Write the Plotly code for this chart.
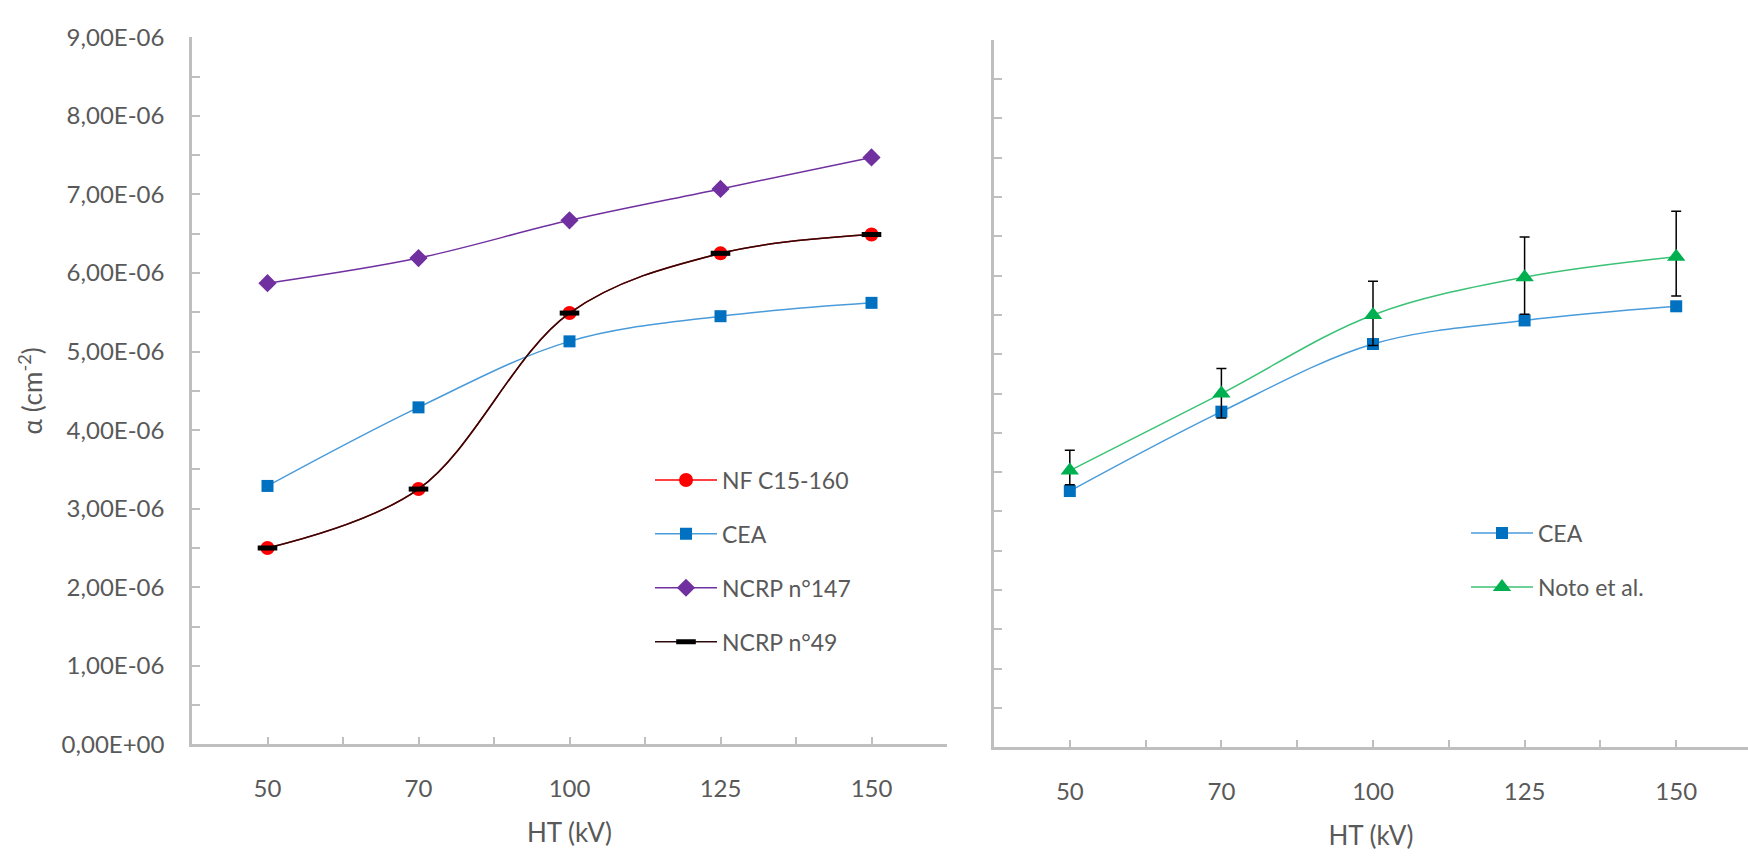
import plotly.graph_objects as go

# ---------------- data ----------------
HT_LABELS = ["50", "70", "100", "125", "150"]
X_POS = [1, 2, 3, 4, 5]  # category positions

NF_C15_160 = [2.50e-6, 3.25e-6, 5.49e-6, 6.25e-6, 6.49e-6]
CEA_LEFT = [3.29e-6, 4.29e-6, 5.13e-6, 5.45e-6, 5.62e-6]
NCRP_147 = [5.87e-6, 6.19e-6, 6.67e-6, 7.07e-6, 7.47e-6]
NCRP_49 = [2.50e-6, 3.25e-6, 5.49e-6, 6.25e-6, 6.49e-6]

CEA_RIGHT = [3.26e-6, 4.27e-6, 5.13e-6, 5.43e-6, 5.61e-6]
NOTO = [3.52e-6, 4.50e-6, 5.50e-6, 5.98e-6, 6.24e-6]
NOTO_ERR_PLUS = [0.26e-6, 0.32e-6, 0.43e-6, 0.51e-6, 0.58e-6]
NOTO_ERR_MINUS = [0.18e-6, 0.31e-6, 0.39e-6, 0.47e-6, 0.50e-6]

Y_TICK_VALS = [0, 1e-6, 2e-6, 3e-6, 4e-6, 5e-6, 6e-6, 7e-6, 8e-6, 9e-6]
Y_TICK_LABELS = ["0,00E+00", "1,00E-06", "2,00E-06", "3,00E-06", "4,00E-06",
                 "5,00E-06", "6,00E-06", "7,00E-06", "8,00E-06", "9,00E-06"]
Y_MINOR_VALS = [0.5e-6, 1.5e-6, 2.5e-6, 3.5e-6, 4.5e-6, 5.5e-6, 6.5e-6, 7.5e-6, 8.5e-6]
X_MINOR_VALS = [1.5, 2.5, 3.5, 4.5, 5.5]

# ---------------- style ----------------
W, H = 1748, 856
FONT = "Lato"
TXT = "#595959"
AX = "#BFBFBF"
FS_TICK = 24
FS_LEG = 23
FS_TITLE = 26

def fx(px):
    return px / W

def fy(py):
    return 1 - py / H

fig = go.Figure()

# left panel
fig.add_trace(go.Scatter(x=X_POS, y=NF_C15_160, name="NF C15-160", mode="lines+markers",
                         line=dict(color="#FF0000", width=1.5, shape="spline", smoothing=1),
                         marker=dict(symbol="circle", size=14, color="#FF0000"),
                         xaxis="x", yaxis="y", legend="legend", legendgroup="a"))
fig.add_trace(go.Scatter(x=X_POS, y=CEA_LEFT, name="CEA", mode="lines+markers",
                         line=dict(color="#4A9BDA", width=1.5, shape="spline", smoothing=1),
                         marker=dict(symbol="square", size=12, color="#0070C0"),
                         xaxis="x", yaxis="y", legend="legend", legendgroup="b"))
fig.add_trace(go.Scatter(x=X_POS, y=NCRP_147, name="NCRP n°147", mode="lines+markers",
                         line=dict(color="#7030A0", width=1.5, shape="spline", smoothing=1),
                         marker=dict(symbol="diamond", size=14, color="#7030A0"),
                         xaxis="x", yaxis="y", legend="legend", legendgroup="c"))
fig.add_trace(go.Scatter(x=X_POS, y=NCRP_49, name="NCRP n°49", mode="lines+markers",
                         line=dict(color="#2A0A0A", width=1.5, shape="spline", smoothing=1),
                         marker=dict(symbol="line-ew", size=14, color="#000000",
                                     line=dict(color="#000000", width=5)),
                         xaxis="x", yaxis="y", legend="legend", legendgroup="d"))

# right panel
fig.add_trace(go.Scatter(x=X_POS, y=CEA_RIGHT, name="CEA", mode="lines+markers",
                         line=dict(color="#4A9BDA", width=1.5, shape="spline", smoothing=1),
                         marker=dict(symbol="square", size=12, color="#0070C0"),
                         xaxis="x2", yaxis="y2", legend="legend2", legendgroup="e"))
fig.add_trace(go.Scatter(x=X_POS, y=NOTO, name="Noto et al.", mode="lines+markers",
                         line=dict(color="#3CC276", width=1.5, shape="spline", smoothing=1),
                         marker=dict(symbol="triangle-up", size=16, color="#00B050"),
                         error_y=dict(type="data", symmetric=False, array=NOTO_ERR_PLUS,
                                      arrayminus=NOTO_ERR_MINUS, color="#000000",
                                      thickness=1.5, width=5),
                         xaxis="x2", yaxis="y2", legend="legend2", legendgroup="f"))

tick_style = dict(ticks="inside", ticklen=8, tickwidth=2, tickcolor=AX)
xcommon = dict(tickmode="array", tickvals=X_POS, ticktext=HT_LABELS,
               minor=dict(tickmode="array", tickvals=X_MINOR_VALS, **tick_style),
               showline=True, linecolor=AX, linewidth=2.5, showgrid=False, zeroline=False,
               tickfont=dict(family=FONT, size=FS_TICK, color=TXT), ticklabelstandoff=21,
               title=dict(text="HT (kV)", font=dict(family=FONT, size=FS_TITLE, color=TXT), standoff=23),
               **tick_style)
ycommon = dict(range=[0, 9e-6], tickmode="array", tickvals=Y_TICK_VALS,
               minor=dict(tickmode="array", tickvals=Y_MINOR_VALS, **tick_style),
               showline=True, linecolor=AX, linewidth=2.5, showgrid=False, zeroline=False,
               **tick_style)

legcommon = dict(xanchor="left", yanchor="top", bgcolor="rgba(0,0,0,0)",
                 font=dict(family=FONT, size=FS_LEG, color=TXT), itemwidth=62,
                 tracegroupgap=21, traceorder="grouped")

fig.update_layout(
    width=W, height=H, margin=dict(l=0, r=0, t=0, b=0),
    paper_bgcolor="white", plot_bgcolor="white",
    font=dict(family=FONT, size=FS_TICK, color=TXT),
    xaxis=dict(domain=[fx(192), fx(947)], range=[0.5, 5.5], anchor="y", **xcommon),
    yaxis=dict(domain=[fy(754), fy(22)], anchor="x", ticktext=Y_TICK_LABELS,
               tickfont=dict(family=FONT, size=FS_TICK, color=TXT), ticklabelstandoff=20,
               title=dict(text="α (cm<sup>-2</sup>)", font=dict(family=FONT, size=FS_TITLE, color=TXT), standoff=12),
               **ycommon),
    xaxis2=dict(domain=[fx(994), 1.0], range=[0.5, 0.5 + (1748 - 994) / 151.6], anchor="y2", **xcommon),
    yaxis2=dict(domain=[fy(757), fy(24.6)], anchor="x2", showticklabels=False, **ycommon),
    legend=dict(x=fx(650), y=fy(458), **legcommon),
    legend2=dict(x=fx(1466), y=fy(513), **legcommon),
)

fig.write_html("out.html", config={"displayModeBar": False},
               post_script="document.body.style.margin='0';document.body.style.padding='0';")
